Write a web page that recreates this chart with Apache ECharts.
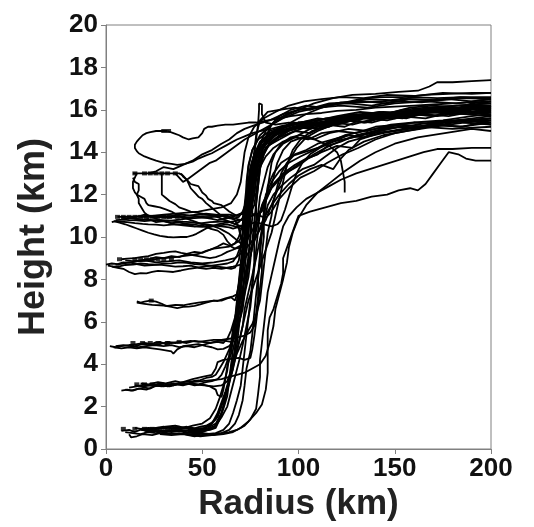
<!doctype html>
<html>
 <head>
  <meta charset="UTF-8">
  <script src="https://cdn.jsdelivr.net/npm/echarts@6/dist/echarts.min.js"></script>
  <title>Trajectories</title>
 </head>
 <script type="text/javascript">
    var xTicks = [0, 50, 100, 150, 200];
    var yTicks = [0, 2, 4, 6, 8, 10, 12, 14, 16, 18, 20];

    // trajectories [radius km, height km], grouped by release height
    var release1 = [
      [[8,0.85],[12,0.9],[15,0.8],[19,0.95],[22,0.9],[27,1.0],[30,0.95],[34,1.05],[38,1.0],[42,1.05],[45,0.95],[49,1.05],[52,1.1],[55,1.25],[58,1.5],[60,2.0],[62,2.6],[64,3.1],[65,3.9],[67,4.6],[68,5.5],[70,6.3],[71,7.2],[72,8.1],[74,9.0],[75,10.0],[76,10.9],[76,11.8],[77,12.8],[79,13.6],[83,14.2],[90,14.7],[98,15.0],[106,14.9],[115,15.3],[125,15.5],[135,15.4],[146,15.7],[158,15.8],[170,15.7],[182,16.0],[192,15.8],[200,15.9]],
      [[10,0.8],[14,0.75],[18,0.7],[22,0.8],[26,0.75],[30,0.85],[34,0.8],[38,0.85],[42,0.75],[46,0.8],[50,0.8],[53,0.9],[56,1.0],[59,1.4],[61,1.9],[63,2.5],[64,3.2],[66,3.8],[67,4.8],[68,5.6],[69,6.6],[71,7.4],[72,8.4],[73,9.3],[74,10.2],[75,11.1],[77,12.0],[78,12.9],[80,13.7],[84,14.3],[90,14.6],[96,14.9],[104,15.2],[112,15.1],[120,15.5],[130,15.7],[142,15.6],[152,15.9],[165,16.0],[178,15.9],[190,16.2],[200,16.1]],
      [[12,0.7],[13,0.55],[16,0.6],[19,0.7],[24,0.65],[28,0.75],[33,0.7],[38,0.75],[44,0.65],[49,0.6],[55,0.65],[60,0.75],[64,0.9],[67,1.2],[69,1.6],[71,2.3],[72,3.0],[73,3.8],[75,4.6],[76,5.4],[77,6.4],[78,7.3],[79,8.2],[80,9.2],[81,10.1],[82,11.0],[83,11.8],[86,12.3],[90,12.7],[95,13.1],[101,13.5],[108,13.9],[116,14.3],[124,14.6],[133,14.8],[143,15.1],[155,15.2],[168,15.4],[182,15.5],[200,15.7]],
      [[20,0.8],[26,0.85],[32,0.75],[38,0.7],[44,0.7],[50,0.65],[56,0.65],[61,0.7],[66,0.8],[70,1.0],[74,1.3],[78,1.7],[81,2.1],[83,2.8],[84,3.6],[84,4.6],[84,5.6],[85,6.2],[87,6.6],[89,7.2],[91,7.8],[92,8.3],[92,9.0],[94,9.5],[96,10.0],[98,10.5],[100,11.0],[106,11.2],[114,11.4],[122,11.6],[130,11.7],[138,11.9],[146,12.0],[152,12.2],[158,12.3],[162,12.2],[166,12.5],[170,13.0],[174,13.5],[178,14.0],[183,13.9],[187,13.7],[192,13.6],[200,13.6]],
      [[25,0.9],[29,0.85],[34,0.9],[40,0.85],[46,0.95],[51,1.0],[55,1.2],[58,1.7],[60,2.2],[62,2.7],[64,3.3],[66,3.9],[68,4.5],[71,5.1],[74,5.6],[76,5.9],[78,6.3],[80,7.0],[81,7.8],[82,8.6],[83,9.4],[84,10.2],[86,11.0],[87,11.7],[89,12.4],[91,13.0],[94,13.5],[98,13.9],[104,14.1],[110,14.4],[118,14.6],[126,14.8],[134,14.7],[142,15.0],[152,15.2],[162,15.1],[172,15.4],[184,15.5],[200,15.4]],
      [[15,1.0],[18,0.95],[22,1.0],[27,0.95],[31,1.05],[36,1.1],[41,1.0],[45,1.1],[50,1.2],[54,1.45],[57,1.9],[59,2.4],[61,3.0],[63,3.7],[64,4.4],[66,5.3],[67,6.1],[68,7.0],[69,7.9],[70,8.8],[71,9.7],[71,10.6],[72,11.5],[73,12.4],[74,13.3],[76,14.1],[80,14.8],[86,15.3],[93,15.7],[100,16.0],[108,16.3],[118,16.55],[128,16.7],[140,16.75],[152,16.85],[162,16.9],[168,17.1],[172,17.3],[180,17.3],[190,17.35],[200,17.4]],
      [[30,0.8],[34,0.85],[39,0.9],[44,0.85],[50,0.85],[54,0.9],[57,1.0],[59,1.4],[61,2.0],[62,2.6],[64,3.2],[65,4.0],[66,4.7],[68,5.5],[69,6.3],[71,7.1],[73,7.9],[74,8.7],[76,9.5],[77,10.3],[79,11.1],[80,11.9],[82,12.6],[84,13.3],[87,13.9],[92,14.4],[98,14.7],[106,15.1],[114,15.3],[124,15.2],[134,15.6],[144,15.7],[156,15.6],[168,15.9],[180,16.0],[190,15.9],[200,16.0]],
      [[40,0.8],[45,0.75],[50,0.75],[55,0.7],[60,0.75],[64,0.8],[68,0.9],[72,1.1],[75,1.4],[78,1.9],[79,2.6],[80,3.4],[80,4.2],[81,5.0],[82,5.8],[83,6.6],[84,7.4],[86,8.2],[88,9.0],[90,9.8],[92,10.5],[95,11.0],[99,11.4],[104,11.8],[110,12.1],[116,12.4],[122,12.7],[130,13.0],[137,13.2],[144,13.4],[151,13.6],[158,13.8],[165,14.0],[172,14.15],[180,14.15],[190,14.2],[200,14.2]],
      [[18,0.9],[22,0.85],[26,0.9],[30,0.8],[34,0.85],[38,0.9],[42,0.8],[46,0.85],[50,0.95],[54,1.1],[57,1.4],[59,1.9],[61,2.3],[63,2.9],[65,3.5],[66,4.2],[68,4.9],[69,5.7],[70,6.5],[72,7.3],[73,8.2],[74,9.1],[75,10.0],[75,10.9],[76,11.8],[77,12.7],[78,13.6],[80,14.4],[83,15.0],[88,15.5],[94,15.8],[100,16.0],[108,16.1],[116,16.3],[126,16.35],[136,16.5],[148,16.45],[160,16.6],[172,16.55],[186,16.6],[200,16.6]],
      [[22,0.95],[26,1.0],[30,1.05],[35,0.95],[40,1.0],[45,1.0],[49,0.9],[53,0.95],[57,1.1],[60,1.5],[63,2.0],[65,2.7],[67,3.4],[69,4.1],[71,4.9],[73,5.8],[75,6.7],[76,7.6],[77,8.5],[78,9.4],[79,10.3],[80,11.2],[83,11.9],[87,12.5],[92,13.0],[98,13.4],[104,13.7],[110,13.9],[115,14.3],[122,14.5],[130,14.8],[140,15.0],[152,15.3],[165,15.2],[180,15.5],[200,15.6]],
      [[28,0.7],[34,0.65],[40,0.7],[46,0.6],[52,0.7],[57,0.75],[61,0.9],[64,1.2],[66,1.7],[68,2.3],[70,3.0],[71,3.8],[72,4.6],[73,5.4],[74,6.2],[75,7.0],[76,7.9],[77,8.8],[77,9.7],[78,10.6],[78,11.5],[79,12.4],[80,13.2],[81,14.0],[83,14.7],[86,15.3],[90,15.7],[96,16.0],[104,16.2],[112,16.1],[122,16.35],[134,16.4],[146,16.3],[158,16.5],[172,16.45],[186,16.55],[200,16.5]],
      [[33,1.0],[38,0.95],[43,1.0],[48,0.9],[53,1.0],[57,1.2],[60,1.7],[62,2.4],[64,3.1],[66,3.8],[68,4.6],[70,5.4],[72,6.2],[74,7.0],[77,7.8],[80,8.6],[83,9.4],[86,10.2],[88,11.0],[90,11.8],[92,12.6],[94,13.4],[97,14.1],[101,14.6],[107,15.0],[115,15.3],[124,15.5],[134,15.4],[145,15.7],[158,15.8],[172,15.7],[186,15.9],[200,15.8]]
    ];
    var release3 = [
      [[8,2.75],[11,2.8],[14,2.75],[17,2.85],[20,2.9],[23,2.85],[26,3.0],[29,3.05],[32,2.95],[36,3.05],[40,3.0],[44,3.1],[48,3.05],[52,3.15],[55,3.2],[58,3.3],[60,3.5],[62,3.9],[64,4.4],[65,5.0],[66,5.7],[68,6.4],[69,7.2],[70,8.0],[71,8.9],[72,9.7],[73,10.6],[74,11.5],[75,12.4],[76,13.2],[78,13.9],[81,14.5],[86,14.9],[93,15.2],[100,15.4],[110,15.3],[120,15.6],[130,15.8],[142,15.7],[154,16.0],[166,16.1],[180,16.0],[190,16.3],[200,16.4]],
      [[10,2.8],[13,2.75],[17,2.85],[21,2.8],[25,2.95],[29,3.0],[33,2.95],[37,3.05],[42,3.1],[46,3.0],[50,3.05],[54,2.95],[57,2.8],[58,2.55],[60,2.45],[61,2.8],[62,3.3],[63,3.9],[65,4.5],[66,5.2],[67,6.0],[68,6.8],[70,7.6],[71,8.4],[72,9.2],[73,10.0],[74,10.9],[75,11.8],[76,12.6],[78,13.4],[81,14.1],[85,14.6],[91,15.0],[98,15.2],[106,15.1],[116,15.4],[126,15.5],[138,15.4],[150,15.7],[164,15.8],[178,15.7],[190,15.9],[200,15.7]],
      [[12,2.9],[16,2.95],[20,3.05],[24,3.0],[28,3.1],[32,3.05],[35,3.0],[40,3.15],[45,3.2],[49,3.25],[52,3.35],[55,3.4],[57,3.5],[59,3.8],[61,4.1],[63,4.5],[65,4.9],[67,5.3],[69,5.9],[71,6.6],[72,7.3],[74,8.1],[75,8.9],[76,9.8],[77,10.7],[78,11.6],[79,12.4],[80,13.2],[82,13.9],[85,14.5],[90,15.0],[96,15.4],[104,15.8],[112,16.1],[122,16.3],[132,16.5],[142,16.6],[154,16.6],[166,16.7],[178,16.75],[190,16.8],[200,16.8]],
      [[15,3.0],[19,2.95],[24,3.0],[29,2.95],[35,3.05],[40,3.15],[45,3.3],[50,3.4],[55,3.5],[57,3.8],[58,4.1],[61,4.2],[65,4.25],[69,4.3],[72,4.2],[75,4.3],[76,4.7],[77,5.3],[78,6.0],[79,6.8],[80,7.6],[81,8.4],[81,9.2],[82,10.0],[82,10.8],[83,11.6],[84,12.4],[87,13.0],[91,13.5],[96,13.8],[103,14.0],[110,14.2],[118,14.5],[128,14.7],[138,14.9],[150,15.0],[164,15.2],[180,15.1],[200,15.2]],
      [[18,3.1],[22,3.05],[27,3.15],[31,3.1],[36,3.2],[41,3.1],[46,3.05],[51,3.0],[56,2.95],[60,3.0],[63,3.2],[65,3.7],[67,4.3],[69,5.0],[71,5.8],[72,6.6],[74,7.4],[76,8.2],[78,9.0],[80,9.9],[82,10.7],[84,11.5],[87,12.0],[91,12.4],[96,12.8],[102,13.2],[108,13.4],[114,13.8],[120,14.2],[126,14.5],[134,14.7],[144,14.9],[156,15.1],[170,15.3],[185,15.2],[200,15.5]],
      [[20,3.0],[25,3.05],[30,2.95],[35,3.1],[40,3.05],[45,3.15],[50,3.2],[55,3.25],[60,3.3],[64,3.4],[68,3.5],[72,3.6],[76,3.8],[80,4.0],[83,4.4],[85,5.0],[87,5.8],[88,6.6],[90,7.3],[92,8.0],[94,8.8],[95,9.5],[97,10.2],[100,10.9],[104,11.5],[110,12.1],[117,12.6],[124,13.1],[132,13.6],[140,14.0],[150,14.4],[162,14.7],[176,14.9],[190,15.1],[200,15.0]]
    ];
    var release5 = [
      [[2,4.85],[5,4.8],[8,4.85],[12,4.9],[15,4.85],[19,4.95],[22,4.9],[25,5.0],[28,5.05],[31,4.95],[34,5.0],[38,5.05],[42,5.0],[46,5.1],[50,5.05],[54,5.0],[58,5.1],[62,5.1],[65,5.05],[67,5.3],[68,5.9],[69,6.6],[70,7.4],[71,8.2],[72,9.0],[73,9.9],[74,10.8],[75,11.7],[76,12.6],[77,13.4],[80,14.1],[84,14.7],[90,15.1],[98,15.4],[108,15.3],[118,15.6],[128,15.8],[140,15.7],[152,15.9],[164,16.0],[178,15.9],[190,16.1],[200,16.1]],
      [[4,4.8],[8,4.75],[12,4.8],[16,4.75],[20,4.8],[24,4.75],[28,4.7],[31,4.65],[34,4.6],[35,4.5],[37,4.7],[40,4.85],[44,4.9],[48,4.95],[52,4.85],[55,4.8],[58,4.7],[61,4.72],[64,4.85],[66,5.1],[67,5.6],[68,6.3],[69,7.1],[70,7.9],[71,8.7],[72,9.5],[72,10.4],[73,11.3],[74,12.2],[75,13.1],[77,13.9],[81,14.5],[87,14.9],[94,15.2],[102,15.4],[112,15.3],[122,15.5],[134,15.7],[146,15.6],[158,15.9],[172,15.9],[186,15.8],[200,15.7]],
      [[12,4.9],[16,4.95],[20,5.0],[24,4.95],[28,4.95],[32,5.05],[36,5.0],[40,5.05],[44,5.1],[48,5.05],[52,5.1],[56,5.15],[60,5.15],[64,5.2],[68,5.25],[72,5.35],[75,5.5],[77,5.8],[78,6.4],[79,7.2],[79,8.0],[80,8.8],[80,9.6],[81,10.4],[82,11.2],[83,12.0],[86,12.6],[90,13.1],[95,13.5],[101,13.8],[108,14.1],[116,14.5],[124,14.8],[134,15.0],[146,15.2],[160,15.4],[175,15.5],[190,15.7],[200,15.8]],
      [[5,4.85],[9,4.9],[13,4.85],[17,4.8],[21,4.85],[25,4.9],[30,4.85],[34,4.9],[38,4.8],[42,4.85],[46,4.8],[50,4.9],[54,5.0],[58,5.05],[61,5.0],[63,5.2],[65,5.6],[67,6.2],[69,6.9],[71,7.6],[73,8.3],[75,9.1],[77,9.9],[79,10.7],[81,11.5],[84,12.1],[88,12.6],[93,13.0],[99,13.3],[105,13.7],[112,14.0],[120,14.3],[128,14.2],[132,14.6],[142,14.9],[154,15.1],[168,15.3],[184,15.2],[200,15.4]]
    ];
    var release7 = [
      [[16,6.96],[18,6.9],[20,6.95],[23,7.0],[26,6.95],[29,6.85],[31,6.75],[34,6.7],[37,6.65],[40,6.7],[43,6.72],[46,6.75],[49,6.82],[52,6.9],[54,6.95],[56,7.0],[58,6.98],[60,7.05],[62,7.1],[64,7.15],[66,7.2],[68,7.3],[69,7.7],[70,8.4],[71,9.2],[72,10.0],[73,10.8],[73,11.6],[74,12.4],[75,13.2],[77,13.9],[80,14.5],[85,14.9],[92,15.2],[100,15.4],[110,15.5],[120,15.7],[132,15.9],[145,15.8],[158,16.1],[170,16.2],[185,16.1],[200,16.4]],
      [[16,6.9],[20,6.85],[24,6.8],[28,6.78],[32,6.75],[36,6.8],[40,6.78],[44,6.85],[48,6.9],[52,6.95],[56,7.0],[60,7.0],[63,7.1],[65,7.15],[67,7.0],[68,7.3],[69,7.8],[70,8.5],[71,9.3],[72,10.1],[73,10.9],[74,11.7],[75,12.5],[77,13.3],[79,14.0],[83,14.5],[88,14.8],[96,15.1],[106,15.2],[116,15.4],[128,15.3],[140,15.6],[152,15.7],[166,15.6],[180,15.9],[200,15.9]]
    ];
    var release9 = [
      [[0,8.7],[3,8.75],[6,8.72],[9,8.8],[12,8.78],[16,8.85],[20,8.88],[24,8.92],[28,9.0],[32,9.02],[36,9.05],[40,9.1],[44,9.15],[48,9.2],[52,9.35],[56,9.45],[60,9.5],[64,9.55],[67,9.7],[69,9.8],[71,10.1],[72,10.7],[73,11.4],[74,12.2],[75,13.0],[77,13.7],[80,14.3],[84,14.8],[90,15.1],[98,15.3],[108,15.5],[118,15.4],[130,15.7],[142,15.9],[155,15.8],[168,16.1],[182,16.2],[200,16.3]],
      [[1,8.65],[4,8.6],[7,8.62],[10,8.68],[14,8.7],[18,8.75],[22,8.72],[26,8.7],[30,8.74],[34,8.76],[38,8.8],[42,8.78],[46,8.72],[50,8.7],[54,8.65],[58,8.6],[62,8.55],[65,8.5],[67,8.55],[69,8.9],[70,9.5],[71,10.2],[72,11.0],[73,11.8],[73,12.6],[74,13.4],[76,14.1],[79,14.6],[85,15.0],[92,15.2],[100,15.4],[110,15.3],[122,15.6],[134,15.7],[146,15.6],[160,15.8],[174,15.9],[188,15.8],[200,15.9]],
      [[3,8.6],[6,8.55],[9,8.5],[12,8.35],[15,8.25],[18,8.3],[21,8.28],[24,8.35],[27,8.4],[31,8.38],[35,8.35],[39,8.42],[43,8.5],[47,8.55],[51,8.6],[55,8.65],[59,8.7],[63,8.75],[66,8.85],[68,9.1],[70,9.6],[71,10.2],[73,10.9],[75,11.6],[76,12.3],[78,13.0],[80,13.7],[83,14.2],[88,14.6],[95,15.0],[103,15.2],[112,15.1],[122,15.4],[134,15.6],[146,15.5],[160,15.8],[174,15.9],[188,16.0],[200,16.1]],
      [[8,8.95],[11,8.98],[15,9.0],[18,9.05],[22,9.1],[26,9.2],[30,9.25],[33,9.3],[36,9.32],[39,9.25],[42,9.2],[45,9.15],[48,9.1],[51,9.05],[54,9.0],[57,9.05],[60,9.15],[63,9.3],[66,9.4],[68,9.5],[70,9.6],[72,9.9],[74,10.5],[75,11.2],[77,12.0],[78,12.7],[80,13.4],[82,14.0],[86,14.5],[92,14.9],[100,15.2],[110,15.4],[120,15.3],[132,15.6],[144,15.8],[156,15.7],[168,16.0],[184,16.1],[200,16.2]],
      [[5,8.7],[9,8.75],[12,8.8],[16,8.72],[20,8.65],[24,8.68],[28,8.7],[32,8.65],[36,8.6],[40,8.62],[44,8.65],[48,8.55],[52,8.5],[56,8.55],[60,8.5],[63,8.55],[66,8.6],[70,8.7],[73,9.1],[76,9.6],[79,10.2],[82,10.9],[86,11.5],[90,12.0],[95,12.5],[100,12.9],[106,13.2],[112,13.4],[118,13.2],[121,13.6],[126,14.1],[134,14.5],[144,14.8],[156,15.0],[170,15.2],[186,15.4],[200,15.3]],
      [[14,8.85],[18,8.9],[22,8.95],[26,9.05],[30,9.0],[34,9.1],[38,9.05],[42,9.2],[46,9.3],[50,9.25],[54,9.4],[58,9.55],[61,9.7],[64,9.6],[67,9.45],[70,9.5],[73,9.8],[76,10.3],[79,10.9],[82,11.5],[85,12.1],[87,12.8],[89,13.5],[92,14.1],[96,14.5],[102,14.7],[108,14.6],[116,14.9],[126,15.1],[136,15.0],[148,15.3],[160,15.4],[174,15.3],[188,15.5],[200,15.3]],
      [[10,8.9],[15,8.85],[20,8.9],[26,8.8],[32,8.85],[38,8.9],[44,8.8],[50,8.75],[56,8.8],[62,8.9],[67,9.0],[71,9.3],[75,9.7],[79,10.2],[83,10.8],[86,11.5],[89,12.2],[92,12.9],[95,13.6],[99,14.2],[104,14.7],[110,15.0],[118,15.3],[128,15.5],[140,15.8],[152,15.7],[166,16.0],[180,16.1],[200,16.0]]
    ];
    var release11 = [
      [[6,10.95],[10,10.95],[14,10.95],[18,10.95],[22,10.95],[26,10.95],[30,10.95],[34,10.95],[38,10.95],[42,10.9],[46,10.95],[50,10.98],[55,11.0],[60,11.05],[64,11.05],[68,11.0],[71,11.1],[73,11.6],[75,12.3],[76,13.1],[77,13.9],[78,14.6],[79,15.3],[79.5,16.0],[79.5,16.3],[81,16.25],[81,15.8],[83,15.4],[88,15.3],[95,15.4],[104,15.3],[114,15.6],[126,15.7],[138,15.6],[150,15.9],[164,16.0],[178,15.9],[190,16.2],[200,16.1]],
      [[3,10.7],[5,10.75],[8,10.72],[11,10.7],[15,10.65],[19,10.62],[22,10.6],[26,10.58],[30,10.55],[34,10.58],[38,10.6],[42,10.62],[46,10.6],[50,10.65],[54,10.7],[58,10.72],[62,10.75],[66,10.65],[69,10.55],[72,10.5],[74,10.8],[75,11.4],[76,12.1],[77,12.8],[79,13.5],[81,14.1],[85,14.6],[90,15.0],[97,15.2],[105,15.4],[115,15.3],[126,15.6],[138,15.8],[150,15.7],[164,16.0],[178,16.0],[190,16.2],[200,16.2]],
      [[4,10.75],[7,10.68],[10,10.6],[13,10.5],[16,10.4],[19,10.3],[22,10.2],[25,10.12],[28,10.05],[32,10.0],[35,9.98],[39,10.0],[42,10.0],[45,10.08],[47,10.15],[50,10.3],[52,10.4],[55,10.5],[58,10.6],[61,10.65],[64,10.7],[67,10.75],[70,10.8],[73,10.9],[75,11.1],[77,11.5],[78,12.1],[79,12.8],[80,13.4],[82,13.9],[85,14.4],[90,14.8],[96,15.1],[104,15.3],[114,15.2],[124,15.5],[136,15.7],[148,15.6],[160,15.9],[174,16.0],[188,15.9],[200,16.0]],
      [[5,10.8],[9,10.82],[12,10.8],[16,10.78],[20,10.75],[24,10.78],[28,10.8],[32,10.78],[36,10.75],[40,10.72],[44,10.7],[48,10.65],[52,10.6],[56,10.55],[60,10.5],[64,10.45],[66,10.4],[70,10.5],[74,10.6],[78,10.7],[82,10.6],[86,10.5],[89,10.6],[91,10.8],[93,11.3],[95,11.9],[97,12.5],[99,13.0],[102,13.5],[106,13.9],[111,14.2],[118,14.5],[126,14.8],[134,14.7],[142,15.0],[152,15.2],[162,15.1],[174,15.4],[188,15.5],[200,15.5]],
      [[8,10.9],[12,10.88],[16,10.85],[20,10.82],[24,10.8],[28,10.78],[32,10.75],[36,10.8],[40,10.85],[44,10.88],[48,10.9],[52,10.92],[56,10.95],[60,10.98],[63,11.0],[65,10.9],[67,10.8],[69,10.4],[70,10.0],[72,9.6],[73,9.7],[74,10.2],[74,10.9],[75,11.6],[75,12.4],[76,13.2],[77,14.0],[78,14.8],[80,15.5],[84,15.9],[90,16.0],[98,16.1],[106,16.0],[115,16.25],[126,16.3],[138,16.2],[150,16.4],[164,16.35],[178,16.5],[190,16.4],[200,16.5]],
      [[14,10.95],[18,11.0],[20,11.05],[23,11.0],[26,10.95],[30,10.98],[34,11.0],[37,11.05],[40,11.05],[43,11.02],[46,11.0],[49,10.95],[52,10.9],[55,10.85],[58,10.8],[61,10.85],[64,10.9],[67,11.0],[70,11.1],[73,11.05],[76,11.0],[79,11.1],[81,11.2],[83,11.7],[84,12.3],[85,12.9],[86,13.5],[88,14.0],[91,14.4],[96,14.7],[101,14.8],[106,14.7],[111,14.5],[116,14.3],[120,14.0],[122,13.6],[123,13.1],[124,12.6],[124,12.1]],
      [[10,10.85],[14,10.9],[18,10.8],[22,10.85],[26,10.7],[30,10.75],[34,10.65],[38,10.7],[42,10.6],[46,10.5],[50,10.55],[54,10.4],[58,10.3],[61,10.1],[63,9.8],[65,9.6],[67,9.7],[69,10.0],[71,10.6],[73,11.3],[75,12.0],[77,12.7],[80,13.3],[83,13.8],[87,14.2],[92,14.5],[98,14.7],[105,14.6],[112,14.9],[120,15.0],[130,14.9],[140,15.2],[152,15.3],[164,15.2],[176,15.5],[188,15.4],[200,15.6]],
      [[18,10.95],[22,11.0],[27,10.95],[32,10.9],[37,10.95],[42,11.0],[47,11.05],[52,11.1],[57,11.05],[62,11.0],[66,10.9],[70,10.8],[74,10.9],[77,11.1],[80,11.0],[83,10.9],[86,11.2],[90,11.8],[95,12.3],[101,12.8],[108,13.1],[115,13.5],[123,13.9],[131,14.2],[140,14.6],[150,14.9],[162,15.1],[176,15.4],[190,15.5],[200,15.6]],
      [[24,11.0],[30,11.05],[36,11.1],[42,11.15],[48,11.2],[54,11.3],[60,11.4],[65,11.6],[68,12.0],[70,12.6],[71,13.3],[72,14.0],[74,14.7],[77,15.2],[82,15.6],[88,15.9],[95,16.2],[103,16.4],[112,16.5],[122,16.6],[134,16.55],[146,16.7],[160,16.65],[175,16.8],[190,16.75],[200,16.8]]
    ];
    var release13 = [
      [[14,13.0],[18,13.0],[22,13.0],[26,13.0],[30,13.0],[34,13.0],[38,13.0],[40,12.9],[42,12.7],[43,12.5],[44,12.3],[46,12.1],[48,11.9],[50,11.8],[52,11.6],[54,11.45],[56,11.3],[58,11.15],[60,11.0],[63,10.9],[66,10.85],[69,10.95],[71,11.2],[73,11.7],[74,12.3],[75,12.9],[76,13.5],[78,14.0],[81,14.5],[86,14.9],[93,15.2],[101,15.4],[110,15.6],[120,15.5],[132,15.8],[144,15.9],[156,15.8],[168,16.1],[182,16.2],[200,16.3]],
      [[16,13.0],[15,12.8],[14,12.6],[14,12.3],[15,12.1],[16,12.0],[17,11.8],[17,11.6],[18,11.45],[19,11.3],[20,11.15],[22,11.0],[25,10.9],[28,10.8],[32,10.7],[36,10.6],[40,10.55],[45,10.5],[50,10.48],[55,10.5],[59,10.55],[63,10.6],[67,10.5],[70,10.4],[72,10.5],[74,10.8],[75,11.4],[76,12.0],[77,12.7],[78,13.3],[80,13.9],[83,14.4],[88,14.8],[95,15.1],[103,15.3],[113,15.4],[124,15.6],[136,15.8],[148,15.7],[160,16.0],[174,16.1],[188,16.0],[200,16.2]],
      [[29,13.0],[29,12.7],[29,12.4],[29,12.0],[31,11.85],[33,11.7],[36,11.55],[38,11.4],[41,11.3],[44,11.2],[47,11.15],[50,11.1],[53,11.05],[56,11.0],[59,10.9],[62,10.8],[65,10.7],[67,10.6],[69,10.7],[71,10.9],[72,11.4],[73,12.0],[74,12.7],[75,13.3],[77,13.9],[80,14.4],[85,14.9],[92,15.2],[100,15.4],[110,15.3],[121,15.6],[132,15.7],[144,15.6],[156,15.9],[170,16.0],[185,15.9],[200,16.2]],
      [[14,12.8],[15,12.6],[17,12.5],[17,12.2],[16,12.0],[18,11.9],[20,11.8],[21,11.6],[22,11.5],[25,11.45],[28,11.4],[31,11.3],[34,11.2],[36,11.1],[38,11.0],[41,10.9],[44,10.8],[47,10.7],[50,10.6],[53,10.55],[56,10.5],[59,10.4],[61,10.3],[64,10.15],[66,10.0],[68,9.85],[70,9.7],[72,10.0],[73,10.3],[74,11.0],[75,11.7],[76,12.4],[77,13.0],[79,13.6],[80,14.1],[83,14.5],[87,14.8],[94,15.1],[100,15.2],[110,15.4],[120,15.3],[130,15.6],[142,15.7],[154,15.6],[166,15.9],[180,15.8],[200,16.0]],
      [[39,13.0],[40,12.85],[42,12.7],[43,12.6],[44,12.5],[46,12.45],[48,12.4],[49,12.25],[50,12.1],[52,11.95],[53,11.8],[55,11.7],[56,11.6],[58,11.55],[60,11.5],[62,11.35],[64,11.2],[66,11.1],[68,11.0],[70,11.1],[72,11.2],[74,11.6],[75,12.0],[76,12.6],[77,13.2],[78,13.7],[80,14.2],[84,14.6],[88,14.9],[95,15.1],[105,15.3],[116,15.2],[126,15.6],[138,15.7],[150,15.6],[162,15.9],[176,16.0],[190,15.9],[200,16.1]],
      [[36,13.0],[38,12.8],[40,12.6],[42,12.7],[45,12.9],[48,13.1],[51,13.3],[54,13.5],[57,13.6],[60,13.8],[63,14.0],[66,14.2],[69,14.4],[72,14.6],[76,14.8],[80,15.0],[86,15.3],[92,15.6],[100,15.9],[110,16.1],[120,16.3],[132,16.35],[144,16.4],[156,16.5],[170,16.45],[184,16.6],[200,16.5]],
      [[22,13.0],[26,13.1],[30,13.3],[35,13.2],[40,13.4],[45,13.6],[50,13.9],[55,14.1],[60,14.4],[64,14.6],[68,14.9],[72,15.1],[78,15.3],[85,15.5],[92,15.8],[100,16.0],[110,16.1],[122,16.2],[136,16.1],[150,16.3],[166,16.4],[182,16.3],[200,16.5]]
    ];
    var release15 = [
      [[32,15.0],[29,15.0],[26,15.0],[23,14.95],[21,14.9],[19,14.8],[17,14.6],[16,14.5],[15,14.35],[15,14.2],[16,14.05],[17,13.95],[20,13.8],[23,13.7],[26,13.6],[30,13.5],[34,13.45],[37,13.4],[41,13.45],[45,13.55],[48,13.7],[52,13.85],[55,13.95],[58,14.1],[62,14.3],[65,14.45],[68,14.6],[72,14.75],[76,14.9],[80,15.0],[86,15.1],[92,15.25],[100,15.4],[108,15.5],[118,15.6],[128,15.7],[140,15.85],[152,15.9],[164,16.0],[176,15.95],[188,16.05],[200,16.1]],
      [[32,15.0],[35,14.9],[38,14.8],[40,14.7],[43,14.6],[45,14.65],[48,14.7],[50,14.9],[51,15.1],[53,15.2],[55,15.2],[58,15.25],[62,15.3],[66,15.3],[70,15.35],[74,15.4],[78,15.4],[84,15.5],[90,15.6],[96,15.7],[104,15.8],[112,15.85],[120,15.95],[130,16.0],[140,16.1],[150,16.15],[160,16.2],[170,16.25],[180,16.3],[190,16.35],[200,16.4]]
    ];
    // release markers (small squares)
    var markers = [
      [30,15],[32.5,15],
      [15,13],[20,13],[23,13],[26,13],[29,13],[32,13],[36,13],
      [6,10.95],[9,10.95],[12,10.95],[15,10.95],[18,10.95],[21,10.95],[24,10.95],[27,10.95],[30,10.95],[33,10.95],[37,10.95],
      [7,8.95],[15,8.95],[18,8.95],[21,8.95],[24,8.95],[27,8.95],[30,8.95],[34,8.95],
      [23.5,7.0],
      [14,5.0],[19,5.0],[23,5.0],[27,5.0],[32,5.0],[38,5.05],
      [16,3.05],[20,3.05],[24,3.05],[29,3.05],[33,3.05],
      [9,0.95],[15,0.95],[20,0.95],[24,0.95],[28,0.95],[32,0.95],[37,1.0]
    ];

 	var loadData = function() {
 		var myChart = echarts.init(document.getElementById('chart'));
 		var groups = [release1, release3, release5, release7, release9, release11, release13, release15];
 		var series = [];
 		groups.forEach(function (g) {
 		    g.forEach(function (t) {
 		        series.push({
 		            type: 'line',
 		            data: t,
 		            showSymbol: false,
 		            lineStyle: {color: '#000', width: 1.8},
 		            z: 2
 		        });
 		    });
 		});
 		series.push({
 		    type: 'scatter',
 		    data: markers,
 		    symbol: 'rect',
 		    symbolSize: [5, 4],
 		    itemStyle: {color: '#000'},
 		    z: 3
 		});
 		myChart.setOption({
 		    animation: false,
 		    grid: {left: 106, right: 43, top: 25, bottom: 78, show: true, borderColor: '#808080', borderWidth: 1},
 		    xAxis: {
 		        type: 'value', min: 0, max: 200, interval: 50,
 		        name: 'Radius (km)', nameLocation: 'middle', nameGap: 29,
 		        nameTextStyle: {fontFamily: 'Liberation Sans', fontWeight: 'bold', fontSize: 35, color: '#222'},
 		        axisLine: {show: true, lineStyle: {color: '#808080'}},
 		        axisTick: {show: true, inside: false, length: 5, lineStyle: {color: '#808080'}},
 		        axisLabel: {margin: 7, fontFamily: 'Liberation Sans', fontWeight: 'bold', fontSize: 26, color: '#111',
 		            formatter: function (v) { return xTicks.indexOf(v) >= 0 ? String(v) : ''; }},
 		        splitLine: {show: false}
 		    },
 		    yAxis: {
 		        type: 'value', min: 0, max: 20, interval: 2,
 		        name: 'Height (km)', nameLocation: 'middle', nameGap: 54,
 		        nameTextStyle: {fontFamily: 'Liberation Sans', fontWeight: 'bold', fontSize: 36, color: '#222'},
 		        axisLine: {show: true, lineStyle: {color: '#808080'}},
 		        axisTick: {show: true, inside: false, length: 5, lineStyle: {color: '#808080'}},
 		        axisLabel: {margin: 8, fontFamily: 'Liberation Sans', fontWeight: 'bold', fontSize: 26, color: '#111',
 		            formatter: function (v) { return yTicks.indexOf(v) >= 0 ? String(v) : ''; }},
 		        splitLine: {show: false}
 		    },
 		    series: series
 		});
 	}
 </script>
 <body onload="loadData()" style="margin:0">
  <div id="chart" style="height: 527px; width: 534px; margin: 0"></div>
 </body>
</html>
